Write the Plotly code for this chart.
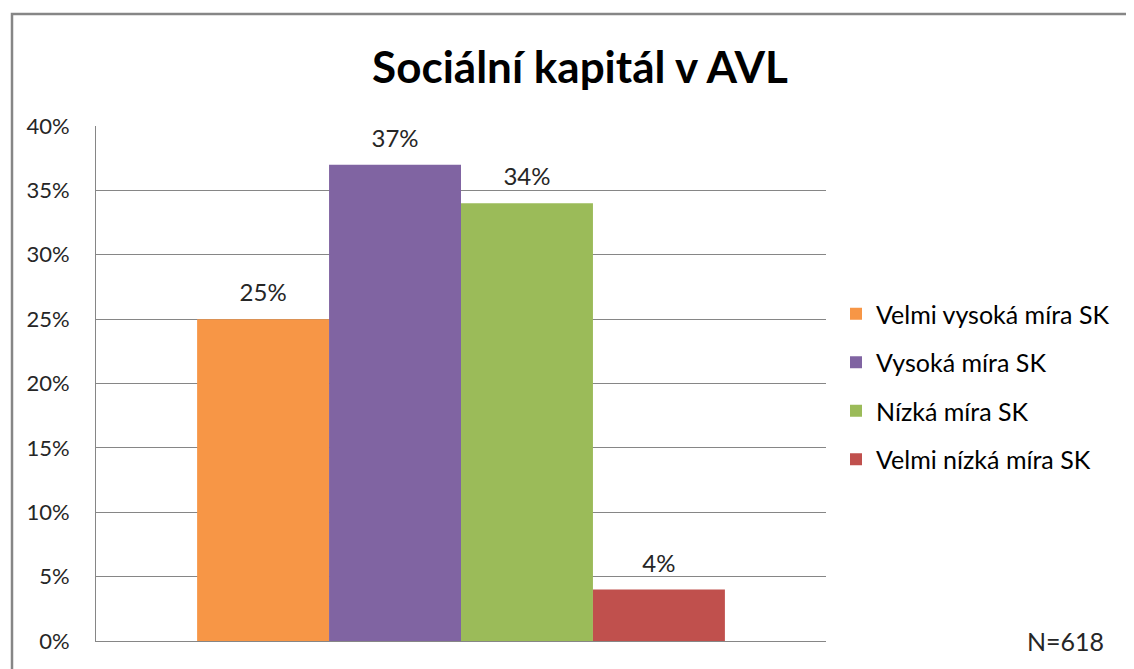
import plotly.graph_objects as go

series_names = ["Velmi vysoká míra SK", "Vysoká míra SK", "Nízká míra SK", "Velmi nízká míra SK"]
values = [0.25, 0.37, 0.34, 0.04]
colors = ["#F79646", "#8064A2", "#9BBB59", "#C0504D"]
category = [""]
tick_vals = [0, 0.05, 0.10, 0.15, 0.20, 0.25, 0.30, 0.35, 0.40]
tick_text = ["0%", "5%", "10%", "15%", "20%", "25%", "30%", "35%", "40%"]
title = "Sociální kapitál v AVL"
note = "N=618"

FONT = "Lato"
OFF = 8  # page body margin
W, H = 1134 - OFF, 669 - OFF

def fx(x):
    return x - OFF

L, R, T, B = fx(96), fx(826), fx(126), fx(641)
pw, ph = R - L, B - T

def px2x(x):
    return (fx(x) - L) / pw

def px2y(y):
    return (B - fx(y)) / ph

fig = go.Figure()
for i, (name, v, c) in enumerate(zip(series_names, values, colors)):
    fig.add_trace(go.Bar(
        x=category, y=[v], name=name, marker_color=c, marker_line_width=0,
        text=[f"<span style='font-size:24px'>{round(v*100)}%</span><br> "],
        textposition="outside", cliponaxis=False,
        textfont=dict(family=FONT, size=10, color="#262626"),
        legendgroup=f"g{i}",
    ))

fig.update_layout(
    width=W, height=H,
    margin=dict(l=L, r=W - R, t=T, b=H - B, pad=0),
    paper_bgcolor="white", plot_bgcolor="white",
    barmode="group", bargap=0.277, bargroupgap=0,
    uniformtext=dict(mode=False),
    title=dict(text=f"<b>{title}</b>", font=dict(family=FONT, size=44, color="black"),
               x=fx(580) / W, xanchor="center", xref="container",
               y=1 - fx(68) / H, yanchor="middle", yref="container"),
    showlegend=True,
    legend=dict(x=px2x(836), y=px2y(291), xanchor="left", yanchor="top",
                font=dict(family=FONT, size=25, color="black"),
                tracegroupgap=13, bgcolor="rgba(0,0,0,0)"),
    xaxis=dict(showticklabels=False, showline=True, linecolor="#868686", linewidth=1,
               ticks="", showgrid=False, zeroline=False),
    yaxis=dict(range=[0, 0.40], tickvals=tick_vals, ticktext=tick_text,
               showgrid=True, gridcolor="#868686", gridwidth=1,
               showline=True, linecolor="#868686", linewidth=1, ticks="",
               zeroline=False, tickfont=dict(family=FONT, size=22, color="#262626"),
               ticklabelstandoff=21),
    font=dict(family=FONT),
)

fig.add_annotation(text=note, x=px2x(1065), y=px2y(641), xref="paper", yref="paper",
                   showarrow=False, font=dict(family=FONT, size=25, color="#262626"),
                   xanchor="center", yanchor="middle")

fig.add_shape(type="rect", xref="paper", yref="paper",
              x0=px2x(12), x1=px2x(1131), y0=px2y(700), y1=px2y(14),
              line=dict(color="#868686", width=2.5), fillcolor="rgba(0,0,0,0)", layer="above")

fig.write_html("out.html")
